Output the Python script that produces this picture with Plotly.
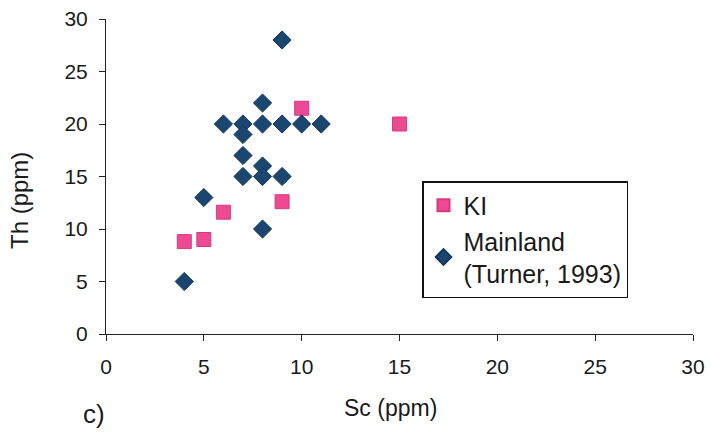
import plotly.graph_objects as go

# Data
ki_sc = [4, 5, 6, 9, 10, 15]
ki_th = [8.8, 9.0, 11.6, 12.6, 21.5, 20.0]

ml_sc = [4, 5, 6, 7, 7, 7, 7, 8, 8, 8, 8, 8, 9, 9, 9, 10, 11]
ml_th = [5, 13, 20, 20, 19, 17, 15, 22, 20, 16, 15, 10, 28, 20, 15, 20, 20]

x_ticks = [0, 5, 10, 15, 20, 25, 30]
y_ticks = [0, 5, 10, 15, 20, 25, 30]

FONT = "Liberation Sans, Arial, sans-serif"

ML, MR, MT, MB = 106, 18, 19, 100
W, H = 711, 434
pw = W - ML - MR
ph = H - MT - MB


def px_x(px):
    return (px - ML) / pw


def px_y(py):
    return (MT + ph - py) / ph


fig = go.Figure()
fig.add_trace(go.Scatter(
    x=ki_sc, y=ki_th, mode="markers", name="KI",
    marker=dict(symbol="square", size=14, color="#ec4b93",
                line=dict(color="#d63a80", width=1)),
))
fig.add_trace(go.Scatter(
    x=ml_sc, y=ml_th, mode="markers", name="Mainland<br>(Turner, 1993)",
    marker=dict(symbol="diamond", size=14, color="#1b4670",
                line=dict(color="#12375a", width=1)),
))

fig.update_layout(
    width=W, height=H,
    margin=dict(l=ML, r=MR, t=MT, b=MB, autoexpand=False),
    paper_bgcolor="white", plot_bgcolor="white",
    font=dict(family=FONT, size=21, color="#1a1a1a"),
    showlegend=True,
    legend=dict(
        x=px_x(422), y=px_y(181), xanchor="left", yanchor="top",
        bordercolor="#111111", borderwidth=1.5, bgcolor="white",
        font=dict(family=FONT, size=25, color="#1a1a1a"),
        itemsizing="constant",
    ),
    xaxis=dict(
        range=[0, 30], tickvals=x_ticks, ticktext=[str(v) for v in x_ticks],
        showline=True, linecolor="#222", linewidth=1, showgrid=False, zeroline=False,
        ticks="outside", ticklen=6, tickcolor="#222", automargin=False,
        ticklabelstandoff=8, tickfont=dict(size=21),
    ),
    yaxis=dict(
        range=[0, 30], tickvals=y_ticks, ticktext=[str(v) for v in y_ticks],
        showline=True, linecolor="#222", linewidth=1, showgrid=False, zeroline=False,
        ticks="outside", ticklen=6, tickcolor="#222", automargin=False,
        ticklabelstandoff=7, tickfont=dict(size=21),
    ),
    annotations=[
        dict(text="Sc (ppm)", x=px_x(390), y=px_y(408), xref="paper", yref="paper",
             showarrow=False, xanchor="center", yanchor="middle", font=dict(size=23)),
        dict(text="Th (ppm)", x=px_x(20), y=px_y(201), xref="paper", yref="paper",
             showarrow=False, xanchor="center", yanchor="middle", textangle=-90,
             font=dict(size=24)),
        dict(text="c)", x=px_x(94), y=px_y(414), xref="paper", yref="paper",
             showarrow=False, xanchor="center", yanchor="middle", font=dict(size=26)),
    ],
)

fig.write_html("out.html")
